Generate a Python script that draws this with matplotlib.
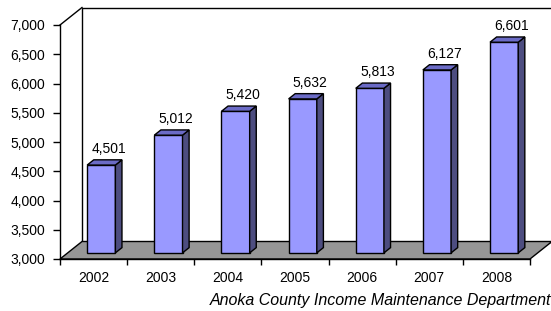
import matplotlib.pyplot as plt
from matplotlib.patches import Polygon
from matplotlib.lines import Line2D
from matplotlib.transforms import IdentityTransform
from matplotlib.ticker import FixedLocator, FuncFormatter

years = ["2002", "2003", "2004", "2005", "2006", "2007", "2008"]
cases = [4501, 5012, 5420, 5632, 5813, 6127, 6601]
y_ticks = [3000, 3500, 4000, 4500, 5000, 5500, 6000, 6500, 7000]
source = "Anoka County Income Maintenance Department"

plt.rcParams['font.family'] = ['Liberation Sans', 'DejaVu Sans']

fig = plt.figure(figsize=(5.51, 3.11), dpi=100)
ax = fig.add_axes([60 / 551, 52 / 311, 470 / 551, 234 / 311])
ax.set_xlim(-0.5, len(years) - 0.5)
ax.set_ylim(y_ticks[0], y_ticks[-1])
ax.patch.set_visible(False)

# depth of the fake 3d box, in pixels
depth_x, depth_y = 22, 17.5
bar_w = 0.42
bar_front, bar_back = 0.35, 0.65


def project(x, v, d):
    # data point pushed back by depth fraction d
    px, py = ax.transData.transform((x, v))
    return (px + d * depth_x, py + d * depth_y)


def face(points, color, z):
    p = Polygon(points, closed=True, facecolor=color, edgecolor="black",
                linewidth=1.0, transform=IdentityTransform(), clip_on=False,
                zorder=z, joinstyle="miter")
    ax.add_patch(p)


x0, x1 = ax.get_xlim()
lo, hi = ax.get_ylim()

# back wall and floor
face([project(x0, lo, 1), project(x1, lo, 1), project(x1, hi, 1), project(x0, hi, 1)], "white", 1)
face([project(x0, lo, 0), project(x1, lo, 0), project(x1, lo, 1), project(x0, lo, 1)], "#969696", 2)
a = project(x0, hi, 0)
b = project(x0, hi, 1)
ax.add_line(Line2D([a[0], b[0]], [a[1], b[1]], color="black", linewidth=1.0,
                   transform=IdentityTransform(), clip_on=False, zorder=2))

# bars
for i, v in enumerate(cases):
    l, r = i - bar_w / 2, i + bar_w / 2
    face([project(l, lo, bar_front), project(r, lo, bar_front),
          project(r, v, bar_front), project(l, v, bar_front)], "#9999ff", 3)
    face([project(r, lo, bar_front), project(r, lo, bar_back),
          project(r, v, bar_back), project(r, v, bar_front)], "#4d4d80", 3)
    face([project(l, v, bar_front), project(r, v, bar_front),
          project(r, v, bar_back), project(l, v, bar_back)], "#6b6bc6", 3)
    tx, ty = project(i, v, bar_back)
    ax.text(tx + 1, ty + 4, f"{v:,}", ha="center", va="bottom", fontsize=10,
            transform=IdentityTransform(), clip_on=False, zorder=4)

# axes lines and ticks
for s in ["top", "right"]:
    ax.spines[s].set_visible(False)
for s in ["left", "bottom"]:
    ax.spines[s].set_linewidth(1.0)
    ax.spines[s].set_zorder(5)

ax.set_yticks(y_ticks)
ax.yaxis.set_major_formatter(FuncFormatter(lambda v, p: f"{int(v):,}"))
ax.tick_params(axis="y", length=5, width=1.0, pad=5.5, labelsize=10)

ax.xaxis.set_major_locator(FixedLocator([k - 0.5 for k in range(len(years) + 1)]))
ax.xaxis.set_minor_locator(FixedLocator(range(len(years))))
ax.set_xticklabels([], minor=False)
ax.set_xticklabels(years, minor=True)
ax.tick_params(axis="x", which="major", length=4.5, width=1.0)
ax.tick_params(axis="x", which="minor", length=0, pad=9, labelsize=10)

fig.text(551 / 551, 10 / 311, source, ha="right", va="center", fontsize=11.5,
         style="italic")

fig.savefig("out.png", dpi=100)
